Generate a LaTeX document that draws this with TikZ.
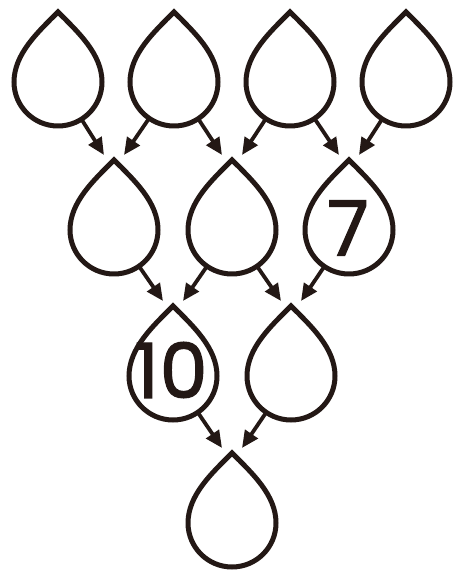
\documentclass[tikz,border=0pt]{standalone}
\usepackage{fontspec}
\usepackage{xcolor}
\usepackage{tikz}
\usetikzlibrary{arrows.meta, calc}
\newfontfamily\digitfont[FakeBold=1.7]{Poppins}
\definecolor{inkblack}{RGB}{35,24,21}

% one drop: name, x, y of its round part
\newcommand{\waterdrop}[3]{%
  \node[dropball] (#1) at (#2,#3) {};
  \coordinate (#1-tip) at (#2,#3+70);
  \coordinate (#1-inl) at (#2-10,#3+75);
  \coordinate (#1-inr) at (#2+10,#3+75);
  \draw[dropline] (#1-tip) .. controls +(-20,-20) and +(0,28) .. (#1.west)
    arc[start angle=180, end angle=360, radius=44]
    .. controls +(0,28) and +(20,-20) .. (#1-tip) -- cycle;
}

\begin{document}
\begin{tikzpicture}[x=1pt, y=1pt, >=Stealth, inkblack,
    dropball/.style={circle, minimum size=88pt, inner sep=0pt, outer sep=0pt},
    dropline/.style={line width=5pt, line join=miter},
    flow/.style={-{Triangle[length=17pt, width=15pt]}, line width=3.8pt},
    numlabel/.style={font=\digitfont\fontsize{76}{76}\selectfont, inner sep=0pt}]
    \useasboundingbox (0,0) rectangle (455,572);
    % Top row
    \foreach \n/\x in {1/58, 2/174, 3/290, 4/406} {
        \waterdrop{a\n}{\x}{490}
    }
    % Second row
    \foreach \n/\x in {1/114, 2/232, 3/349} {
        \waterdrop{b\n}{\x}{342}
    }
    % Third row
    \waterdrop{c1}{173}{196}
    \waterdrop{c2}{291}{196}
    % Bottom drop
    \waterdrop{d1}{232}{49}
    % Numbers
    \node[numlabel] (seven) at ($(b3)+(-1,2)$) {7};
    \node[numlabel] (ten) at ($(c1)+(-2,6)$) {1\kern1pt0};
    % Arrows
    \foreach \p/\c in {a1/b1-inl, a2/b1-inr, a2/b2-inl, a3/b2-inr, a3/b3-inl, a4/b3-inr,
                       b1/c1-inl, b2/c1-inr, b2/c2-inl, b3/c2-inr, c1/d1-inl, c2/d1-inr} {
        \draw[flow] (\p) -- (\c);
    }
\end{tikzpicture}
\end{document}
